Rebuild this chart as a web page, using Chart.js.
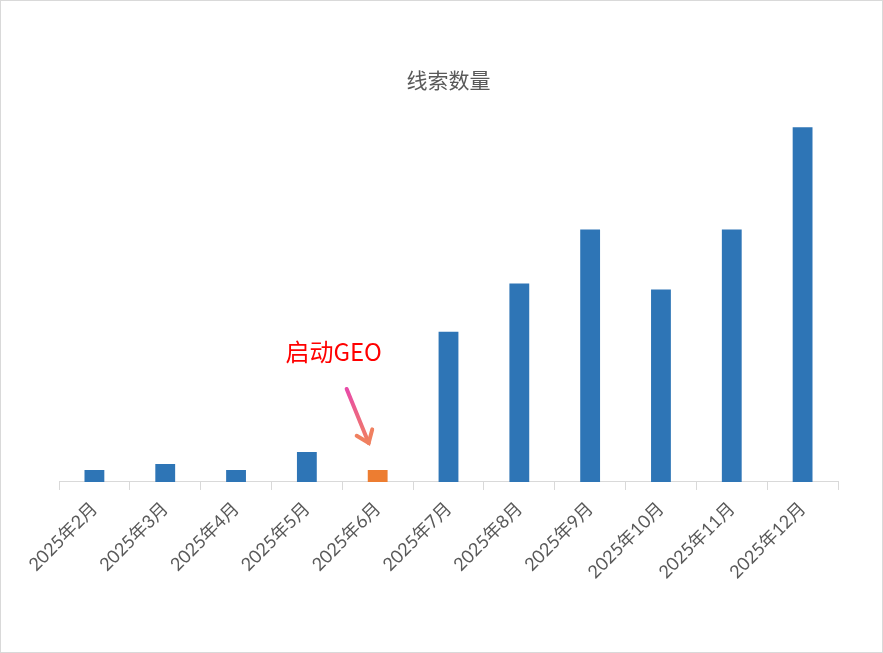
<!DOCTYPE html>
<html>
<head>
<meta charset="utf-8">
<script src="https://cdn.jsdelivr.net/npm/chart.js@4/dist/chart.umd.min.js"></script>
<style>
  html, body { margin: 0; padding: 0; background: #fff; }
  #wrap { width: 883px; height: 653px; box-sizing: border-box; border: 1px solid #d9d9d9; position: relative; }
</style>
</head>
<body>
<div id="wrap"><canvas id="leadChart"></canvas></div>
<script>
// chart data
const months = ['2025年2月', '2025年3月', '2025年4月', '2025年5月', '2025年6月', '2025年7月',
                '2025年8月', '2025年9月', '2025年10月', '2025年11月', '2025年12月'];
const leadCounts = [2, 3, 2, 5, 2, 25, 33, 42, 32, 42, 59];
const geoStartIndex = 4;
const annotationText = '启动GEO';

const barColors = months.map((m, i) => i === geoStartIndex ? '#ed7d31' : '#2e75b6');

// draws the "启动GEO" note with an arrow pointing at the June bar
const geoNote = {
    id: 'geoNote',
    afterDatasetsDraw(chart) {
        const ctx = chart.ctx;
        const x = chart.scales.x.getPixelForValue(geoStartIndex);
        const y = chart.scales.y.getPixelForValue(leadCounts[geoStartIndex]);

        ctx.save();
        ctx.fillStyle = '#ff0000';
        ctx.font = '24px "Noto Sans CJK SC", "DejaVu Sans"';
        ctx.textAlign = 'center';
        ctx.textBaseline = 'middle';
        ctx.fillText(annotationText, x - 44, y - 118);

        const x0 = x - 31, y0 = y - 81;
        const x1 = x - 9, y1 = y - 27;
        const grad = ctx.createLinearGradient(x0, y0, x1, y1);
        grad.addColorStop(0, '#e84ba8');
        grad.addColorStop(1, '#f08060');
        ctx.strokeStyle = grad;
        ctx.lineWidth = 4;
        ctx.lineCap = 'round';
        ctx.beginPath();
        ctx.moveTo(x0, y0);
        ctx.lineTo(x1, y1);
        ctx.stroke();

        const ang = Math.atan2(y1 - y0, x1 - x0);
        const len = 14;
        ctx.beginPath();
        ctx.moveTo(x1 + Math.cos(ang - 2.5) * len, y1 + Math.sin(ang - 2.5) * len);
        ctx.lineTo(x1, y1);
        ctx.lineTo(x1 + Math.cos(ang + 2.5) * len, y1 + Math.sin(ang + 2.5) * len);
        ctx.strokeStyle = '#f08060';
        ctx.stroke();
        ctx.restore();
    }
};

const config = {
    type: 'bar',
    data: {
        labels: months,
        datasets: [{
            label: '线索数量',
            data: leadCounts,
            backgroundColor: barColors,
            barPercentage: 0.28,
            categoryPercentage: 1.0
        }]
    },
    options: {
        responsive: true,
        maintainAspectRatio: false,
        animation: false,
        layout: {
            padding: { left: 58, right: 44, top: 0, bottom: 61 }
        },
        plugins: {
            legend: { display: false },
            tooltip: { enabled: false },
            title: {
                display: true,
                text: '线索数量',
                color: '#595959',
                font: { size: 21, family: '"Noto Sans CJK SC", sans-serif', weight: 'normal' },
                padding: { top: 66, bottom: 17 }
            }
        },
        scales: {
            x: {
                offset: true,
                grid: {
                    display: true,
                    offset: true,
                    drawOnChartArea: false,
                    drawTicks: true,
                    tickLength: 8,
                    color: '#d9d9d9'
                },
                border: { display: true, color: '#d9d9d9' },
                ticks: {
                    minRotation: 45,
                    maxRotation: 45,
                    color: '#595959',
                    padding: 8,
                    font: { size: 18, family: 'Lato, "Noto Sans CJK SC", sans-serif' }
                }
            },
            y: {
                display: false,
                beginAtZero: true,
                max: 62
            }
        }
    },
    plugins: [geoNote]
};

new Chart(document.getElementById('leadChart').getContext('2d'), config);
</script>
</body>
</html>
